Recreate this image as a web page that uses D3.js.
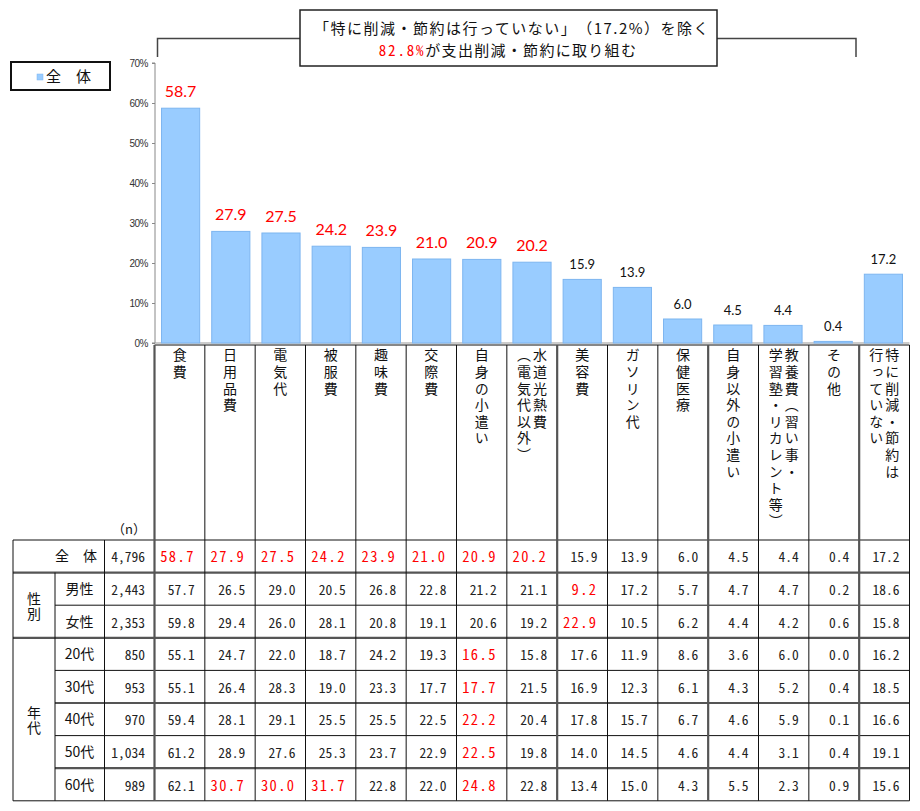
<!DOCTYPE html>
<html><head><meta charset="utf-8">
<script src="https://cdn.jsdelivr.net/npm/d3@7"></script>
<style>
html,body{margin:0;padding:0;background:#fff;}
svg{display:block;}
svg text{text-spacing-trim:space-all;}
</style></head>
<body>
<svg id="chart" width="920" height="811"></svg>
<script>
// ---------- DATA ----------
const categories = ["食費","日用品費","電気代","被服費","趣味費","交際費","自身の小遣い","水道光熱費（電気代以外）","美容費","ガソリン代","保健医療","自身以外の小遣い","教養費（習い事・学習塾・リカレント等）","その他","特に削減・節約は行っていない"];
// vertical label columns (right column first)
const categoryLabelCols = [["食費"],["日用品費"],["電気代"],["被服費"],["趣味費"],["交際費"],["自身の小遣い"],["水道光熱費","（電気代以外）"],["美容費"],["ガソリン代"],["保健医療"],["自身以外の小遣い"],["教養費（習い事・","学習塾・リカレント等）"],["その他"],["特に削減・節約は","行っていない"]];
const overallValues = [58.7,27.9,27.5,24.2,23.9,21.0,20.9,20.2,15.9,13.9,6.0,4.5,4.4,0.4,17.2];
const yTicks = [0,10,20,30,40,50,60,70];

const rowLabels = ["全　体","男性","女性","20代","30代","40代","50代","60代"];
const rowN = ["4,796","2,443","2,353","850","953","970","1,034","989"];
const groupLabels = [{label:"性別", from:1, to:2},{label:"年代", from:3, to:7}];
const rowTotal = [58.7,27.9,27.5,24.2,23.9,21.0,20.9,20.2,15.9,13.9,6.0,4.5,4.4,0.4,17.2];
const rowMale  = [57.7,26.5,29.0,20.5,26.8,22.8,21.2,21.1,9.2,17.2,5.7,4.7,4.7,0.2,18.6];
const rowFemale= [59.8,29.4,26.0,28.1,20.8,19.1,20.6,19.2,22.9,10.5,6.2,4.4,4.2,0.6,15.8];
const row20s   = [55.1,24.7,22.0,18.7,24.2,19.3,16.5,15.8,17.6,11.9,8.6,3.6,6.0,0.0,16.2];
const row30s   = [55.1,26.4,28.3,19.0,23.3,17.7,17.7,21.5,16.9,12.3,6.1,4.3,5.2,0.4,18.5];
const row40s   = [59.4,28.1,29.1,25.5,25.5,22.5,22.2,20.4,17.8,15.7,6.7,4.6,5.9,0.1,16.6];
const row50s   = [61.2,28.9,27.6,25.3,23.7,22.9,22.5,19.8,14.0,14.5,4.6,4.4,3.1,0.4,19.1];
const row60s   = [62.1,30.7,30.0,31.7,22.8,22.0,24.8,22.8,13.4,15.0,4.3,5.5,2.3,0.9,15.6];
// highlighted cells: [row, col]
const highlights = [[0,0],[0,1],[0,2],[0,3],[0,4],[0,5],[0,6],[0,7],[1,8],[2,8],[3,6],[4,6],[5,6],[6,6],[7,6],[7,1],[7,2],[7,3]];
const headerLine1 = "「特に削減・節約は行っていない」（17.2%）を除く";
const headerPct = "82.8%";
const headerLine2 = "が支出削減・節約に取り組む";
const legendLabel = "全　体";

// ---------- DRAW ----------
const tableRows = [rowTotal,rowMale,rowFemale,row20s,row30s,row40s,row50s,row60s];
const hl = new Set(highlights.map(d=>d[0]+"_"+d[1]));
const JP = "'Noto Sans CJK JP','Noto Sans',sans-serif";
const MONO = "'Noto Sans Mono CJK JP','Noto Sans CJK JP',monospace";
const RED = "#FF0000";

const svg = d3.select("#chart");
svg.append("rect").attr("width",920).attr("height",811).attr("fill","#fff");

const colScale = d3.scaleBand().domain(categories).range([154.5, 909.5]).padding(0);
const barScale = d3.scaleBand().domain(categories).range([154.5, 909.5]).paddingInner(0.24).paddingOuter(0.14);
const y = d3.scaleLinear().domain([0,70]).range([343,63]);

// Y axis
const yAxis = svg.append("g").attr("transform","translate(155,0)")
  .call(d3.axisLeft(y).tickValues(yTicks).tickSize(3).tickPadding(4).tickFormat(d=>d+"%"));
yAxis.select(".domain").attr("stroke","#888").attr("d","M-3,"+y(70)+"H0V"+y(0)+"H-3");
yAxis.selectAll(".tick line").attr("stroke","#888");
yAxis.selectAll(".tick text").attr("font-family","'Liberation Sans',Arial,sans-serif").attr("font-size",10).attr("fill","#333").attr("letter-spacing","-0.5");

// x baseline
svg.append("line").attr("x1",155).attr("x2",909.5).attr("y1",y(0)).attr("y2",y(0)).attr("stroke","#999");

// Bars
svg.append("g").selectAll("rect").data(overallValues).join("rect")
  .attr("x",(d,i)=>barScale(categories[i]))
  .attr("width",barScale.bandwidth())
  .attr("y",d=>y(d))
  .attr("height",d=>y(0)-y(d))
  .attr("fill","#99CCFF").attr("stroke","#7DB5F0").attr("stroke-width",1);

// Bar labels
svg.append("g").selectAll("text").data(overallValues).join("text")
  .attr("x",(d,i)=>barScale(categories[i])+barScale.bandwidth()/2)
  .attr("y",(d,i)=>y(d)-(hl.has("0_"+i)?11:10))
  .attr("text-anchor","middle")
  .attr("font-family","Lato,'Open Sans',sans-serif")
  .attr("font-size",(d,i)=>hl.has("0_"+i)?16:13)
  .attr("fill",(d,i)=>hl.has("0_"+i)?RED:"#111")
  .text(d=>d.toFixed(1));

// Category vertical labels
const catG = svg.append("g");
categoryLabelCols.forEach((cols,i)=>{
  const cx = colScale(categories[i]) + colScale.bandwidth()/2;
  const n = cols.length;
  cols.forEach((t,j)=>{
    const off = n===1 ? 0 : (j===0 ? 8 : -8);
    catG.append("text")
      .attr("x",cx+off).attr("y",348)
      .attr("style","writing-mode:vertical-rl;")
      .attr("font-family",JP).attr("font-size",14).attr("letter-spacing","2.6")
      .attr("fill","#111")
      .text(t);
  });
});

// Table rows geometry
const rowTop = 540, rowH = 32.6;
const rowY = i => rowTop + i*rowH;

// data cells
const cellG = svg.append("g");
tableRows.forEach((vals,r)=>{
  vals.forEach((v,c)=>{
    const isHl = hl.has(r+"_"+c);
    cellG.append("text")
      .attr("x",colScale(categories[c])+colScale.bandwidth()-10)
      .attr("y",rowY(r)+rowH/2+6)
      .attr("text-anchor","end")
      .attr("font-family",MONO).attr("font-size",isHl?14.5:13.5)
      .attr("letter-spacing",isHl?"1.4":"0")
      .attr("fill",isHl?RED:"#222")
      .text(v.toFixed(1));
  });
});

// row labels and n
rowLabels.forEach((lab,r)=>{
  const cyText = rowY(r)+rowH/2+5;
  if(r===0){
    svg.append("text").attr("x",97).attr("y",cyText).attr("text-anchor","end")
      .attr("font-family",JP).attr("font-size",14).attr("fill","#111").text(lab);
  } else {
    svg.append("text").attr("x",79.5).attr("y",cyText).attr("text-anchor","middle")
      .attr("font-family",JP).attr("font-size",14).attr("fill","#111").text(lab);
  }
  svg.append("text").attr("x",145).attr("y",cyText+1).attr("text-anchor","end")
    .attr("font-family",MONO).attr("font-size",13.5).attr("fill","#222").text(rowN[r]);
});
svg.append("text").attr("x",129).attr("y",534).attr("text-anchor","middle")
  .attr("font-family",JP).attr("font-size",13).attr("fill","#111").text("（n）");

groupLabels.forEach(g=>{
  const cy = (rowY(g.from)+rowY(g.to+1))/2;
  svg.append("text").attr("x",34).attr("y",cy-14)
    .attr("style","writing-mode:vertical-rl;")
    .attr("font-family",JP).attr("font-size",14).attr("letter-spacing","1")
    .attr("fill","#111").text(g.label);
});

// Grid lines
const gridG = svg.append("g").attr("fill","none");
function hline(x1,x2,yy,thick){gridG.append("line").attr("x1",x1).attr("x2",x2).attr("y1",yy).attr("y2",yy).attr("stroke",thick?"#555":"#111").attr("stroke-width",thick?2.2:1);}
function vline(xx,y1,y2,thick){gridG.append("line").attr("x1",xx).attr("x2",xx).attr("y1",y1).attr("y2",y2).attr("stroke",thick?"#555":"#111").attr("stroke-width",thick?2.2:1);}
const xRight = 909.5;
hline(154.5,xRight,345,false);
hline(13,xRight,rowY(0),false);
hline(13,xRight,rowY(1),true);
hline(55,xRight,rowY(2),false);
hline(13,xRight,rowY(3),true);
hline(55,xRight,rowY(4),false);
hline(55,xRight,rowY(5),true);
hline(55,xRight,rowY(6),false);
hline(55,xRight,rowY(7),true);
hline(13,xRight,rowY(8),false);
const thickCols = new Set([0,8,11,14]);
categories.forEach((c,i)=>{ vline(colScale(c),345,rowY(8),thickCols.has(i)); });
vline(xRight,345,rowY(8),false);
vline(13,rowY(0),rowY(8),false);
vline(55,rowY(1),rowY(8),false);
vline(104.5,rowY(0),rowY(8),false);

// Legend
svg.append("rect").attr("x",11).attr("y",62).attr("width",99).attr("height",28)
  .attr("fill","#fff").attr("stroke","#111").attr("stroke-width",2);
svg.append("rect").attr("x",37).attr("y",74).attr("width",6).attr("height",6).attr("fill","#99CCFF").attr("stroke","#7DB5F0").attr("stroke-width",0.5);
svg.append("text").attr("x",46).attr("y",82).attr("font-family",JP).attr("font-size",15).attr("fill","#111").text(legendLabel);

// Header bracket
const br = svg.append("g").attr("fill","none").attr("stroke","#444").attr("stroke-width",1.5);
br.append("path").attr("d","M157.5,57V38.5H300");
br.append("path").attr("d","M717,38.5H856V57");
svg.append("rect").attr("x",300).attr("y",10).attr("width",417).attr("height",56)
  .attr("fill","#fff").attr("stroke","#222").attr("stroke-width",1.5);
svg.append("text").attr("x",512).attr("y",34).attr("text-anchor","middle")
  .attr("font-family",JP).attr("font-size",15).attr("letter-spacing","1.5").attr("fill","#111").text(headerLine1);
const t2 = svg.append("text").attr("x",508).attr("y",55.5).attr("text-anchor","middle")
  .attr("font-family",JP).attr("font-size",15).attr("letter-spacing","1.3").attr("fill","#111");
t2.append("tspan").attr("fill",RED).attr("font-family",MONO).attr("letter-spacing","1.8").text(headerPct);
t2.append("tspan").text(headerLine2);
</script>
</body></html>
